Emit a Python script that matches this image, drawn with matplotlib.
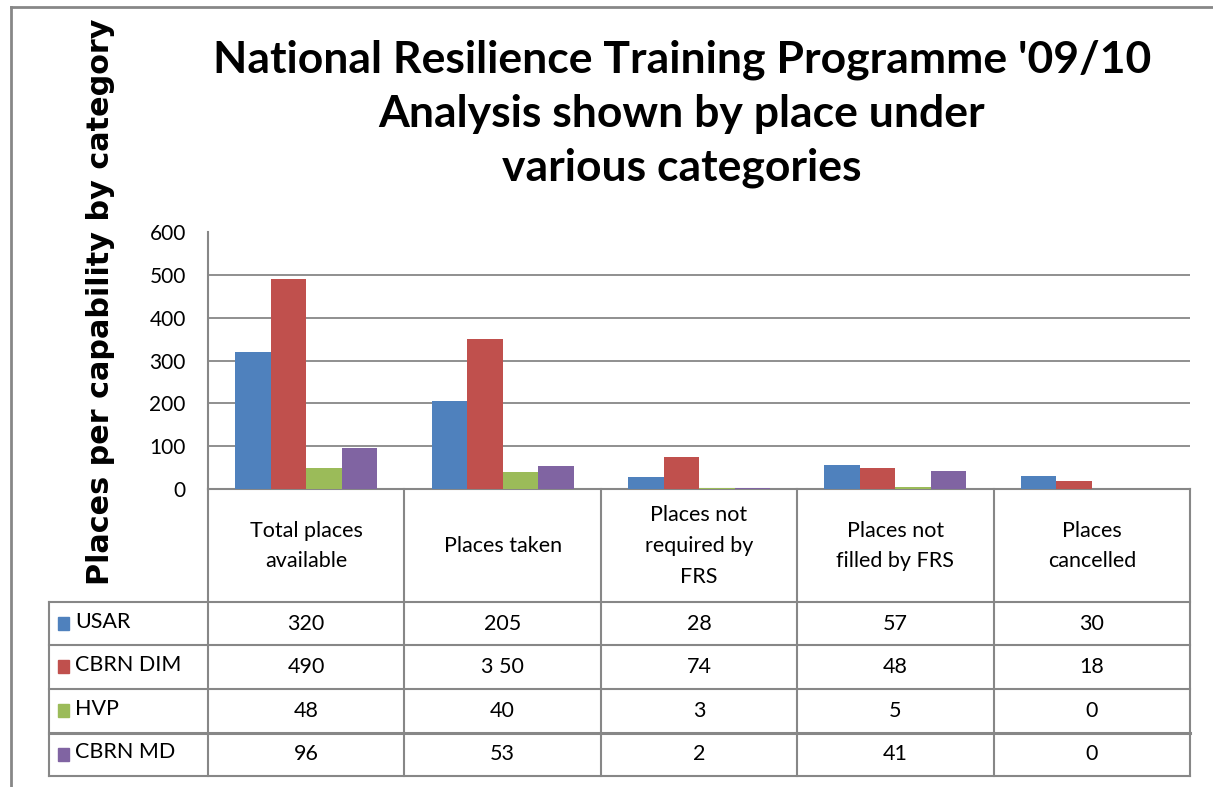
import matplotlib
matplotlib.use("Agg")
import matplotlib.pyplot as plt
from matplotlib.patches import Rectangle
from matplotlib.lines import Line2D

categories = ["Total places\navailable", "Places taken", "Places not\nrequired by\nFRS",
              "Places not\nfilled by FRS", "Places\ncancelled"]
series_names = ["USAR", "CBRN DIM", "HVP", "CBRN MD"]
usar = [320, 205, 28, 57, 30]
cbrn_dim = [490, 350, 74, 48, 18]
hvp = [48, 40, 3, 5, 0]
cbrn_md = [96, 53, 2, 41, 0]
table_labels = [["320", "205", "28", "57", "30"],
                ["490", "3 50", "74", "48", "18"],
                ["48", "40", "3", "5", "0"],
                ["96", "53", "2", "41", "0"]]
yticks = [0, 100, 200, 300, 400, 500, 600]
colors = ["#4F81BD", "#C0504D", "#9BBB59", "#8064A2"]
title = "National Resilience Training Programme '09/10\nAnalysis shown by place under\nvarious categories"
ylabel = "Places per capability by category"

W, H = 1213, 787
fig = plt.figure(figsize=(W / 100, H / 100), dpi=100)
fig.patch.set_facecolor("white")
GRAY = "#878787"
FONT = "Lato"

def fx(px):
    return px / W

def fy(py):
    return 1 - py / H

# figure frame (top + left visible)
fig.add_artist(Line2D([fx(11), fx(11)], [fy(7), 0], transform=fig.transFigure, color=GRAY, lw=2))
fig.add_artist(Line2D([fx(11), 1], [fy(7), fy(7)], transform=fig.transFigure, color=GRAY, lw=2))

# main axes
L, R, T, B = 208, 1190, 232, 489
ax = fig.add_axes([fx(L), fy(B), fx(R - L), (B - T) / H])
series = [usar, cbrn_dim, hvp, cbrn_md]
n = len(categories)
bw = 35.5 / ((R - L) / n)
for j, vals in enumerate(series):
    xs = [i + (j - 1.5) * bw for i in range(n)]
    ax.bar(xs, vals, width=bw, color=colors[j], zorder=3, linewidth=0)
ax.set_xlim(-0.5, n - 0.5)
ax.set_ylim(0, 600)
ax.set_yticks(yticks)
ax.set_yticklabels([str(t) for t in yticks], fontsize=15, family=FONT)
ax.tick_params(axis="y", length=0, pad=16)
ax.set_xticks([])
for t in [100, 200, 300, 400, 500]:
    ax.axhline(t, color=GRAY, lw=1.3, zorder=1)
for s in ["top", "right"]:
    ax.spines[s].set_visible(False)
for s in ["left", "bottom"]:
    ax.spines[s].set_color(GRAY)
    ax.spines[s].set_linewidth(1.5)

# table axes
TB = 776
tax = fig.add_axes([fx(L), fy(TB), fx(R - L), (TB - B) / H])
tax.set_xlim(-0.5, n - 0.5)
tax.set_ylim(TB - B, 0)
tax.axis("off")
row_edges = [0, 113, 156, 200, 244, 287]
legend_left = -0.5 - (L - 49) / ((R - L) / n)
for k, yv in enumerate(row_edges[1:]):
    lw = 2.2 if k == 3 else 1.5
    tax.add_line(Line2D([legend_left, n - 0.5], [yv, yv], color=GRAY, lw=lw, clip_on=False))
tax.add_line(Line2D([legend_left, legend_left], [113, 287], color=GRAY, lw=1.5, clip_on=False))
for i in range(n + 1):
    tax.add_line(Line2D([i - 0.5, i - 0.5], [0, 287], color=GRAY, lw=1.5, clip_on=False))
for i, c in enumerate(categories):
    tax.text(i, 57, c, ha="center", va="center", fontsize=15.5, family=FONT,
             linespacing=1.68)
cell_w = (R - L) / n
for r in range(4):
    yc = (row_edges[r + 1] + row_edges[r + 2]) / 2
    sw = 11 / cell_w
    tax.add_patch(Rectangle((legend_left + 9 / cell_w, yc - 7), sw, 13, color=colors[r], clip_on=False))
    tax.text(legend_left + 26 / cell_w, yc - 2, series_names[r], ha="left", va="center",
             fontsize=15.5, family=FONT)
    for i in range(n):
        tax.text(i, yc, table_labels[r][i], ha="center", va="center", fontsize=15.5, family=FONT)

fig.text(fx(682), fy(114), title, ha="center", va="center", fontsize=32, fontweight="bold",
         family=FONT, linespacing=1.42)
fig.text(fx(101), fy(302), ylabel, rotation=90, ha="center", va="center", fontsize=21.8,
         fontweight="bold", family="DejaVu Sans")

fig.savefig("out.png", dpi=100)
